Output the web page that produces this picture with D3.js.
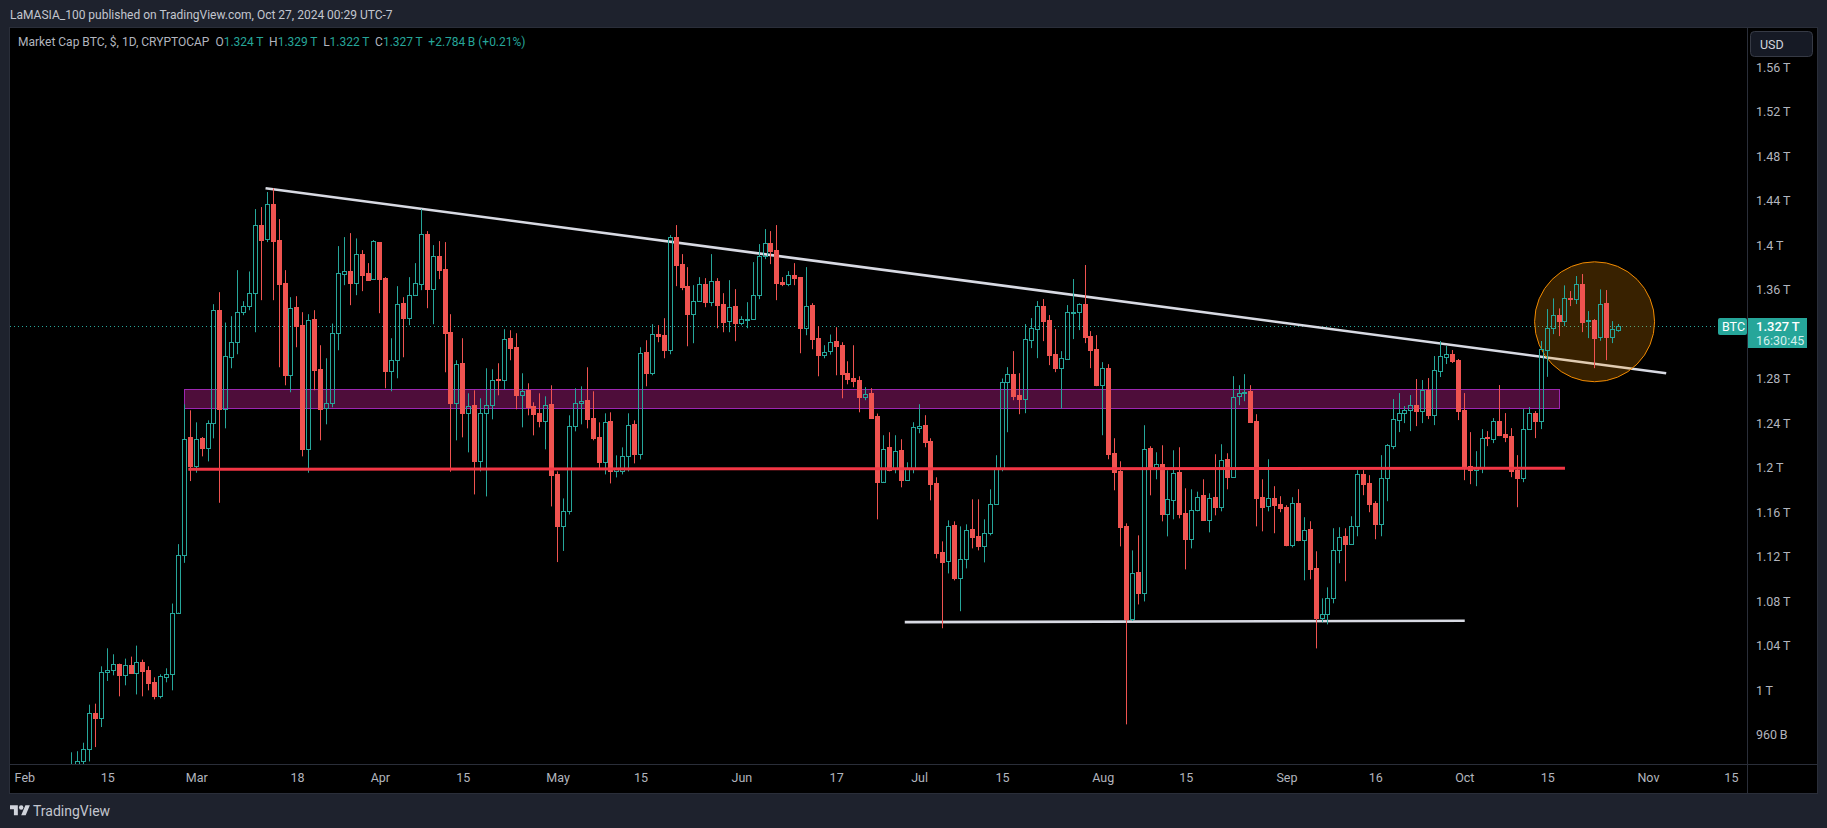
<!DOCTYPE html>
<html><head><meta charset="utf-8">
<script src="https://cdn.jsdelivr.net/npm/d3@7/dist/d3.min.js"></script>
<style>
html,body{margin:0;padding:0;background:#1e222d;overflow:hidden}
text{font-family:Roboto,"Open Sans",sans-serif}
</style></head><body><svg id="c" width="1827" height="828"></svg>
<script>
const firstDay = "2024-02-09";
const opens = [915,925,936.4,947.2,979.6,974.8,1016.5,1018.3,1023.7,1013.5,
1022.8,1015.3,1025.5,1017.7,1006.9,994.3,1011.7,1014.4,1069.6,1120.9,
1227.1,1201,1226.2,1217.2,1240,1341.4,1252.6,1299.4,1312.9,1340,
1345.3,1357,1417.6,1405,1436.8,1404.4,1365.7,1283.5,1344.1,1327.9,
1216.6,1333.3,1288.3,1253.2,1258,1321,1374.1,1376.2,1366,1391.8,
1374.7,1369.6,1402.6,1370.2,1286.5,1296.7,1347.7,1334.5,1355.2,1365.1,
1409.5,1360.6,1390,1378.3,1321.6,1258,1293.7,1249,1255.9,1205.8,
1249,1256.2,1279.3,1278.7,1316.2,1308.1,1265.2,1269.4,1255,1248.7,
1241.8,1256.8,1193.8,1147,1160.5,1237,1258,1260.4,1244.2,1227.1,
1204.6,1241.5,1197.1,1197.1,1210.3,1238.8,1212.1,1303.6,1285,1320.4,
1318.9,1305.7,1407.1,1382.8,1363,1337.8,1349.8,1364.8,1348.6,1367.5,
1346.8,1331.5,1345.6,1329.7,1333.6,1333.3,1355.2,1389.7,1401.7,1395.4,
1366.6,1365.1,1372.9,1371.1,1325.5,1345.9,1316.2,1300.9,1304.5,1313.5,
1309.9,1284.7,1280.2,1278.4,1263.5,1266.8,1246.1,1187.3,1218.2,1198.7,
1215.5,1188.8,1199.3,1235.9,1238,1223.6,1185.8,1123.7,1115.6,1148,
1100.3,1117.7,1144.4,1138.1,1129.4,1140.8,1167.2,1199,1277,1283.9,
1265,1261.7,1314.8,1324.7,1345.1,1332.5,1301.9,1289.6,1297.7,1339.1,
1340,1346.6,1318.1,1306.4,1274.3,1289.3,1212.8,1196.6,1147.1,1063.6,
1105.7,1087.1,1217.3,1200.2,1202.9,1157.9,1170.5,1195.7,1158.8,1135.7,
1161.5,1175,1152.8,1173.2,1164.5,1207.4,1191.5,1264.4,1267.1,1268.6,
1241.6,1173.2,1165.1,1172.4,1167,1164.3,1130.4,1167.9,1134.9,1144.5,
1109.4,1064.7,1068.3,1082.7,1125.9,1138.2,1131.3,1147.5,1194.6,1185.9,
1167.9,1149.3,1190.7,1219.5,1242.9,1248.6,1251.3,1256.1,1251,1269.6,
1247.4,1287,1299.6,1302,1296.6,1251.6,1201.2,1197.6,1199.7,1227.3,
1225.8,1241.7,1230,1228.2,1197.6,1190.7,1234.5,1248.9,1241.7,1305.8,
1325,1336.7,1331.9,1352.3,1351.7,1364.9,1331.6,1332.5,1316.9,1347.8,1317.5,1324];
const highs = [944,945,952.6,986.8,987.7,1021.3,1037.5,1032.1,1023.7,1028.2,
1030,1039.9,1027.3,1021.3,1011.4,1014.1,1019.5,1077.7,1131.1,1256.8,
1251.4,1240.6,1227.4,1242.4,1346.8,1357.6,1330.3,1336,1377.4,1349.5,
1376.2,1432.3,1434.1,1447.6,1450.9,1423.3,1377.4,1353.1,1354,1339.6,
1337.8,1341.4,1309.9,1298.2,1329.4,1399,1407.1,1410.7,1405.9,1395.4,
1383.7,1404.4,1402.6,1371.1,1316.2,1363,1353.1,1371.1,1383.7,1432.3,
1412.5,1399.9,1403.5,1402.6,1337.8,1296.4,1316.2,1266.7,1269.4,1262.2,
1289.2,1288.3,1293.7,1324.3,1323.4,1320.7,1284.7,1275.7,1258.6,1266.7,
1264,1273.9,1196.5,1172.2,1246.9,1271.2,1273,1290.1,1268.5,1240.6,
1248.7,1249.6,1210.9,1218.1,1248.7,1242.4,1308.1,1314.4,1328.8,1327.9,
1334.2,1408.9,1417.9,1391.8,1380.1,1363.9,1371.1,1370.2,1391.8,1370.2,
1356.7,1368.4,1360.3,1336,1348.6,1384.6,1400.8,1414.3,1412.5,1417.9,
1371.1,1376.5,1383.7,1371.1,1380.1,1347.7,1327,1309.9,1319.5,1326.1,
1312.6,1295.5,1309.9,1282,1272.2,1271.3,1248.5,1229,1231.7,1229,
1225.4,1204.7,1240.7,1256.9,1247,1226.3,1191.2,1133.6,1152.5,1151.6,
1147.1,1148.9,1171.4,1171.4,1153.4,1180.4,1211,1280,1290.2,1304.6,
1284.8,1328.9,1334.3,1349.6,1351.4,1337,1324.4,1304.6,1346,1369.4,
1347.5,1382,1322.6,1319,1294.7,1292.9,1226.3,1205.6,1149.8,1125.5,
1139,1238,1219.1,1213.7,1220,1197.5,1215.5,1218.2,1181.3,1180.4,
1178.3,1189.4,1176.8,1211.9,1220.9,1212.8,1282.1,1274,1283.9,1274,
1247.9,1189.4,1207.4,1183.2,1174.2,1166.1,1173.3,1180.5,1155.3,1151.7,
1124.7,1082.4,1092.3,1145.4,1146.3,1145.4,1156.2,1197.6,1197.6,1193.1,
1169.7,1211.1,1221,1261.5,1266.9,1255.2,1265.1,1279.5,1278.6,1280.4,
1300.2,1313.7,1309.2,1305.6,1297.5,1266.9,1231.8,1214.7,1234.5,1232.7,
1244.4,1274.1,1248.9,1235.4,1211.1,1252.5,1254.3,1250.7,1313.7,1342.4,
1352,1343,1363.7,1358.6,1372.1,1373.9,1340.6,1333.4,1360.1,1359.5,1331.6,1329];
const lows = [900,915,933.4,935.8,948.7,966.7,1008.1,1013.2,994.3,1004.2,
1015.3,996,994.3,999.7,991.6,992.5,1006.9,999.7,1069.6,1114.3,
1187.8,1195.3,1210,1205.5,1226.2,1168.3,1235.2,1289.2,1301.8,1336.9,
1341.4,1321.6,1350.4,1402.6,1350.4,1290.1,1273.9,1267.6,1308.1,1210,
1195.3,1269.4,1224.4,1238.8,1254.1,1305.4,1363.9,1345.9,1354.9,1358.5,
1368.4,1369.6,1338.7,1271.2,1268.5,1280.2,1299.1,1327.9,1355.2,1359.4,
1343.2,1328.8,1369.3,1285.6,1196.2,1224.4,1227.1,1213.6,1175.8,1196.5,
1174,1243.3,1264.9,1270,1296.4,1252.3,1236.1,1246.9,1228.9,1236.1,
1216.3,1165,1115,1125,1157.8,1232.5,1238.8,1235.2,1224.4,1199.2,
1193.8,1185.7,1191.1,1193.8,1196.5,1203.7,1207.3,1273,1282.9,1312.6,
1298.2,1301.8,1363,1359.4,1309,1311.7,1349.8,1344.1,1345,1325.2,
1321.6,1321.6,1313.5,1327.9,1325.2,1333.3,1351.3,1387.3,1382.8,1350.4,
1363,1363,1363.9,1302.7,1318.9,1306.3,1282,1298.2,1301.5,1282.9,
1262.2,1274.8,1272.1,1249.6,1260.5,1244.3,1153.4,1187.3,1196.6,1194.8,
1182.2,1188.8,1194.8,1230.8,1218.2,1170.5,1118.3,1055.5,1104.8,1098.5,
1070.8,1109.3,1127.3,1125.5,1114.7,1139,1167.2,1196.6,1231.7,1260.5,
1247.9,1248.8,1307.3,1298.3,1313.6,1292,1285.7,1253,1297.7,1315.4,
1323.5,1311.8,1289.3,1273.1,1229,1207.4,1179.5,1129.1,969.1,1062,
1076.9,1079.6,1175,1189.4,1151.6,1138.1,1153.4,1154.3,1108.4,1127.3,
1160.6,1152.5,1141.7,1157,1160.6,1180.4,1191.5,1256,1259.6,1240.7,
1147.1,1142.6,1160.6,1140.9,1159.8,1129.2,1128.3,1133.7,1098.6,1099.5,
1037.4,1060.8,1059,1077.9,1113.9,1097.7,1131.3,1138.2,1175.1,1159.8,
1135.5,1138.2,1169.7,1216.5,1231.8,1239.9,1232.7,1237.2,1239.9,1243.5,
1238.1,1281.3,1293,1293.9,1242.6,1188.6,1185,1183.2,1194.9,1219.2,
1221.9,1228.2,1222.8,1191.3,1164.3,1186.8,1234.5,1226.4,1234.5,1281.5,
1319.9,1318.1,1327.1,1345.1,1346.9,1321.7,1316.3,1289.3,1313.9,1296.5,1311.8,1322];
const closes = [928,936.4,947.2,979.6,974.8,1016.5,1018.3,1023.7,1013.5,1022.8,
1015.3,1025.5,1016.8,1006.3,994.3,1012.3,1014.7,1069.6,1120.9,1225.9,
1201,1225.9,1217.2,1240.3,1341.4,1252.6,1300,1313.2,1340.2,1345.6,
1357.3,1417.6,1404.7,1436.5,1403.8,1364.8,1283.2,1343.8,1327,1216.3,
1333,1287.4,1252.9,1258.3,1321.3,1374.4,1376.2,1365.7,1391.5,1372.9,
1368.4,1403.2,1369.3,1286.5,1297,1347.4,1334.2,1355.5,1365.4,1409.5,
1360.3,1389.7,1377.4,1320.7,1257.7,1293.4,1248.7,1255.6,1205.5,1249.3,
1256.5,1279,1278.4,1315.9,1307.2,1264.9,1269.1,1254.1,1247.8,1241.5,
1256.5,1192.9,1147,1161.1,1237.6,1258.3,1260.1,1243.3,1226.2,1204.6,
1241.2,1196.5,1198.3,1210.6,1238.5,1211.8,1303.3,1284.7,1320.4,1318,
1305.4,1406.8,1381.9,1362.1,1337.8,1350.1,1364.5,1348.6,1367.2,1345.9,
1330.6,1344.7,1329.7,1333.9,1333.9,1355.5,1390,1401.4,1394.5,1365.7,
1364.8,1372.6,1370.2,1325.2,1345.6,1315.3,1300.9,1304.2,1313.2,1309,
1283.8,1279.3,1277.5,1263.1,1266.5,1244.3,1186.7,1217,1198.1,1215.2,
1188.5,1199.9,1236.2,1237.7,1222.7,1184.9,1122.8,1114.7,1147.7,1100.3,
1118,1144.1,1137.2,1129.1,1141.4,1167.5,1199,1277.3,1283.6,1264.1,
1261.4,1315.1,1325,1344.8,1331.6,1301,1289.3,1298,1339.4,1339.7,
1346.6,1317.2,1305.5,1274,1289,1211.9,1195.7,1146.2,1063.6,1105.4,
1086.8,1217,1200.2,1202.9,1157.9,1171.4,1195.4,1157.9,1135.4,1162.1,
1173.8,1152.5,1172.9,1164.2,1207.1,1191.2,1263.8,1267.4,1268,1240.7,
1172.3,1164.2,1172.3,1166.1,1163.4,1130.1,1167.9,1134.6,1144.2,1108.5,
1064.4,1068.6,1083,1126.2,1137.9,1131,1147.8,1194.6,1185,1167,
1149,1191,1219.8,1243.2,1248.6,1251.6,1255.8,1250.7,1269.6,1247.1,
1287.3,1299.9,1301.7,1295.7,1250.7,1201.2,1197.6,1200,1226.1,1226.7,
1241.4,1229.1,1227.3,1196.7,1190.4,1234.2,1248.6,1241.7,1306.5,1325,
1336.7,1331.6,1352,1351.7,1364.6,1330.7,1332.2,1316.3,1346.6,1317.2,1324.1,1327];

const priceTicks = [960,1000,1040,1080,1120,1160,1200,1240,1280,1360,1400,1440,1480,1520,1560];
const priceLabels = ["960\u2009B","1\u2009T","1.04\u2009T","1.08\u2009T","1.12\u2009T","1.16\u2009T","1.2\u2009T","1.24\u2009T","1.28\u2009T","1.36\u2009T","1.4\u2009T","1.44\u2009T","1.48\u2009T","1.52\u2009T","1.56\u2009T"];
const timeTicks = ["2024-02-01","2024-02-15","2024-03-01","2024-03-18","2024-04-01","2024-04-15","2024-05-01","2024-05-15","2024-06-01","2024-06-17","2024-07-01","2024-07-15","2024-08-01","2024-08-15","2024-09-01","2024-09-16","2024-10-01","2024-10-15","2024-11-01","2024-11-15"];
const timeLabels = ["Feb","15","Mar","18","Apr","15","May","15","Jun","17","Jul","15","Aug","15","Sep","16","Oct","15","Nov","15"];

const lastPrice = 1327;
const bandDates = ["2024-02-28T00:00Z","2024-10-17T00:00Z"], bandPrices = [1252.8,1270.3];
const supportDates = ["2024-02-28T16:00Z","2024-10-18T00:00Z"], supportPrices = [1198.4,1199.3];
const trendDates = ["2024-03-12T17:00Z","2024-11-04T02:00Z"], trendPrices = [1451,1284.7];
const floorDates = ["2024-06-28T14:00Z","2024-10-01T02:00Z"], floorPrices = [1061,1062.3];
const circleSpan = ["2024-10-12T21:00Z","2024-11-02T03:00Z"], circlePrices = [1277.1,1384.9];

const cfg = {W:1827,H:828,L:10,T:28,R:1747,B:764,F:1817,FB:793};
const svg = d3.select("#c");
const x = d3.scaleUtc().domain([new Date("2024-02-15"),new Date("2024-10-27")]).range([107.3,1618.3]);
const y = d3.scaleLinear().domain([960,1560]).range([734.5,67]);
const UP="#26a69a",DN="#ef5350",TXT="#b2b5be",BRD="#2a2e39";

svg.append("rect").attr("width",cfg.W).attr("height",cfg.H).attr("fill","#1e222d");
svg.append("rect").attr("x",cfg.L-.5).attr("y",cfg.T-.5).attr("width",cfg.F-cfg.L+1).attr("height",cfg.FB-cfg.T+1)
  .attr("fill","#000").attr("stroke",BRD);
svg.append("line").attr("x1",cfg.L).attr("x2",cfg.F).attr("y1",cfg.B+.5).attr("y2",cfg.B+.5).attr("stroke",BRD);
svg.append("line").attr("x1",cfg.R+.5).attr("x2",cfg.R+.5).attr("y1",cfg.T).attr("y2",cfg.FB).attr("stroke",BRD);

svg.append("defs").append("clipPath").attr("id","pane").append("rect")
  .attr("x",cfg.L).attr("y",cfg.T).attr("width",cfg.R-cfg.L).attr("height",cfg.B-cfg.T);
const pane = svg.append("g").attr("clip-path","url(#pane)");

// last price dotted line
pane.append("line").attr("x1",cfg.L).attr("x2",cfg.R).attr("y1",Math.round(y(lastPrice))+.5).attr("y2",Math.round(y(lastPrice))+.5)
  .attr("stroke",UP).attr("stroke-dasharray","1 3");

// band
const bx0=x(new Date(bandDates[0])),bx1=x(new Date(bandDates[1]));
pane.append("rect").attr("x",Math.round(bx0)+.5).attr("width",Math.round(bx1-bx0))
  .attr("y",Math.round(y(bandPrices[1]))+.5).attr("height",Math.round(y(bandPrices[0])-y(bandPrices[1])))
  .attr("fill","rgba(156,25,115,.5)").attr("stroke","#9c27b0");

// white lines
[[trendDates,trendPrices],[floorDates,floorPrices]].forEach(([d,p])=>{
  pane.append("line").attr("x1",x(new Date(d[0]))).attr("x2",x(new Date(d[1]))).attr("y1",y(p[0])).attr("y2",y(p[1]))
   .attr("stroke","#d8dae3").attr("stroke-width",2.6);
});

// circle
const cx0=x(new Date(circleSpan[0])),cx1=x(new Date(circleSpan[1]));
pane.append("ellipse").attr("cx",(cx0+cx1)/2).attr("cy",(y(circlePrices[0])+y(circlePrices[1]))/2)
  .attr("rx",(cx1-cx0)/2).attr("ry",(y(circlePrices[0])-y(circlePrices[1]))/2)
  .attr("fill","rgba(255,152,0,.22)").attr("stroke","#f08a00").attr("stroke-width",1);

// candles
const start=new Date(firstDay+"T00:00Z");
const rows=d3.range(opens.length).map(i=>({d:d3.utcDay.offset(start,i),o:opens[i],h:highs[i],l:lows[i],c:closes[i]}));
const g=pane.selectAll("g.c").data(rows).join("g").attr("class","c");
const cxp=d=>Math.floor(x(d.d))+.5;
const yp=v=>Math.round(y(v));
g.append("line").attr("x1",cxp).attr("x2",cxp).attr("y1",d=>y(d.h)).attr("y2",d=>yp(Math.max(d.o,d.c)))
  .attr("stroke",d=>d.c>=d.o?UP:DN);
g.append("line").attr("x1",cxp).attr("x2",cxp).attr("y1",d=>yp(Math.min(d.o,d.c))).attr("y2",d=>y(d.l))
  .attr("stroke",d=>d.c>=d.o?UP:DN);
g.append("rect").attr("x",d=>cxp(d)-2).attr("width",4)
  .attr("y",d=>yp(Math.max(d.o,d.c))+.5).attr("height",d=>Math.max(1,yp(Math.min(d.o,d.c))-yp(Math.max(d.o,d.c))))
  .attr("fill",d=>d.c>=d.o?"none":DN).attr("stroke",d=>d.c>=d.o?UP:DN);

// support line on top
pane.append("line").attr("x1",x(new Date(supportDates[0]))).attr("x2",x(new Date(supportDates[1])))
  .attr("y1",y(supportPrices[0])).attr("y2",y(supportPrices[1])).attr("stroke","#f23645").attr("stroke-width",3);

// axes
const yAxis=d3.axisRight(y).tickValues(priceTicks).tickSize(0).tickPadding(0).tickFormat((v,i)=>priceLabels[i]);
const ya=svg.append("g").attr("transform",`translate(${cfg.R+9},0)`).call(yAxis);
ya.select(".domain").remove();
ya.selectAll("text").attr("fill",TXT).attr("font-size",12.5).attr("font-family",'Roboto');
const xAxis=d3.axisBottom(x).tickValues(timeTicks.map(s=>new Date(s))).tickSize(0).tickPadding(0).tickFormat((v,i)=>timeLabels[i]);
const xa=svg.append("g").attr("transform",`translate(0,${cfg.B+9})`).call(xAxis);
xa.select(".domain").remove();
xa.selectAll("text").attr("fill",TXT).attr("font-size",12.5).attr("font-family",'Roboto');

// header
svg.append("text").attr("x",10).attr("y",19).attr("fill","#c3c6cf").attr("font-size",12)
  .text("LaMASIA_100 published on TradingView.com, Oct 27, 2024 00:29 UTC-7");
const leg=svg.append("text").attr("x",18).attr("y",46).attr("font-size",12).attr("fill","#b2b5be").attr("xml:space","preserve");
[["Market Cap BTC, $, 1D, CRYPTOCAP",TXT],["  O",TXT],["1.324\u2009T",UP],["  H",TXT],["1.329\u2009T",UP],["  L",TXT],["1.322\u2009T",UP],["  C",TXT],["1.327\u2009T",UP],["  +2.784\u2009B (+0.21%)",UP]]
 .forEach(([t,c])=>leg.append("tspan").attr("fill",c).text(t));

// USD
svg.append("rect").attr("x",1750.5).attr("y",31.5).attr("width",62).attr("height",25).attr("rx",4)
  .attr("fill","#161a25").attr("stroke","#363a45");
svg.append("text").attr("x",1760).attr("y",49).attr("fill","#d1d4dc").attr("font-size",12.5).text("USD");

// price tags
const py=Math.round(y(lastPrice));
svg.append("rect").attr("x",1718).attr("y",py-8).attr("width",29).attr("height",17).attr("rx",2).attr("fill",UP);
svg.append("rect").attr("x",1748).attr("y",py-8).attr("width",59).attr("height",30).attr("fill",UP);
svg.append("text").attr("x",1722).attr("y",py+5).attr("fill","#fff").attr("font-size",12.5).text("BTC");
svg.append("text").attr("x",1756).attr("y",py+5).attr("fill","#fff").attr("font-size",13).attr("font-weight",500).text("1.327\u2009T");
svg.append("text").attr("x",1756).attr("y",py+19).attr("fill","#d4f0ec").attr("font-size",12.5).text("16:30:45");

// logo
const lg=svg.append("g").attr("transform","translate(10,803) scale(.56)").attr("fill","#d1d4dc");
lg.append("path").attr("d","M14 22H7V11H0V4h14v18zM28 22h-8l7.5-18h8L28 22z");
lg.append("circle").attr("cx",20).attr("cy",8).attr("r",4);
svg.append("text").attr("x",33).attr("y",816).attr("fill","#c3c6cf").attr("font-size",14).text("TradingView");
</script></body></html>
